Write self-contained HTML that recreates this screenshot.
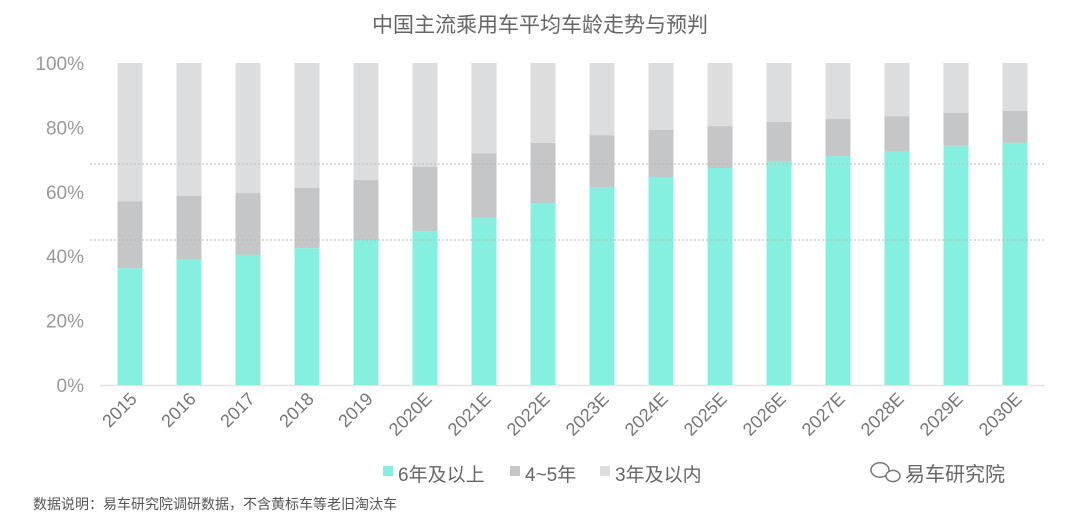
<!DOCTYPE html>
<html><head><meta charset="utf-8"><style>
body{margin:0;background:#fff;font-family:"Liberation Sans","Noto Sans CJK SC",sans-serif;}
#wrap{position:relative;width:1080px;height:520px;overflow:hidden;}
</style></head><body>
<div id="wrap">
<svg id="chart" width="1080" height="520"></svg>
</div>
<script>
const categories=["2015","2016","2017","2018","2019","2020E","2021E","2022E","2023E","2024E","2025E","2026E","2027E","2028E","2029E","2030E"];
const over6=[36.3,39.1,40.4,42.5,45,47.8,51.9,56.5,61.5,64.6,67.4,69.3,71.1,72.4,74.2,75.2];
const y4to5=[20.8,19.6,19.2,18.7,18.7,19.9,20.1,18.7,16.1,14.6,13.0,12.4,11.5,11.1,10.3,9.9];
const within3=over6.map((v,i)=>100-v-y4to5[i]);
const yTicks=[0,20,40,60,80,100];
const NS="http://www.w3.org/2000/svg";
const svg=document.getElementById('chart');
const y0=385,y1=63,xStart=130,step=59,bw=25;
const yS=v=>y0-(y0-y1)*v/100;
const xS=i=>xStart+i*step;
function mk(t,a){const e=document.createElementNS(NS,t);for(const k in a)e.setAttribute(k,a[k]);svg.appendChild(e);return e;}
let t=mk('text',{x:540,y:32,'text-anchor':'middle','font-size':21,fill:'#666'});t.textContent='中国主流乘用车平均车龄走势与预判';


yTicks.forEach(v=>{const e=mk('text',{x:84,y:yS(v)+7,'text-anchor':'end','font-size':19,fill:'#999'});e.textContent=v+'%';

});
let ax=mk('line',{x1:100,x2:1045,y1:y0+0.5,y2:y0+0.5,stroke:'#e3e3e3','stroke-width':1.5});


categories.forEach((c,i)=>{
 const x=xS(i)-bw/2;
 const segs=[[0,over6[i],'#85f0e0','bar-6-years-plus'],[over6[i],over6[i]+y4to5[i],'#c4c6c8','bar-4-5-years'],[over6[i]+y4to5[i],100,'#dcddde','bar-within-3-years']];
 segs.forEach(s=>{const r=mk('rect',{x:x,y:yS(s[1]),width:bw,height:yS(s[0])-yS(s[1]),fill:s[2]});
 
 });
 const l=mk('text',{x:xS(i)+8,y:400,'text-anchor':'end','font-size':18,fill:'#777',transform:`rotate(-45 ${xS(i)+8} 400)`});l.textContent=c;
 
 
});
[164,240].forEach(y=>{const d=mk('line',{x1:90,x2:1045,y1:y,y2:y,stroke:'#bbb','stroke-dasharray':'2,2','stroke-width':1});

});
const legend=[['6年及以上','#85f0e0',383],['4~5年','#c4c6c8',510],['3年及以内','#dcddde',600]];
legend.forEach(L=>{const g=mk('g',{});
 const r=document.createElementNS(NS,'rect');r.setAttribute('x',L[2]);r.setAttribute('y',466);r.setAttribute('width',10);r.setAttribute('height',10);r.setAttribute('fill',L[1]);g.appendChild(r);
 const tx=document.createElementNS(NS,'text');tx.setAttribute('x',L[2]+15);tx.setAttribute('y',481);tx.setAttribute('font-size',19);tx.setAttribute('fill','#666');tx.textContent=L[0];g.appendChild(tx);});
t=mk('text',{x:33,y:509,'font-size':14,fill:'#555'});t.textContent='数据说明：易车研究院调研数据，不含黄标车等老旧淘汰车';


t=mk('text',{x:905,y:481,'font-size':20,fill:'#666'});t.textContent='易车研究院';


const ic=mk('g',{});
[[880,470,9],[893,476,7]].forEach(c=>{const e=document.createElementNS(NS,'ellipse');e.setAttribute('cx',c[0]);e.setAttribute('cy',c[1]);e.setAttribute('rx',c[2]);e.setAttribute('ry',c[2]*0.8);e.setAttribute('fill','#fff');e.setAttribute('stroke','#777');e.setAttribute('stroke-width',1.5);ic.appendChild(e);});
</script>
</body></html>
